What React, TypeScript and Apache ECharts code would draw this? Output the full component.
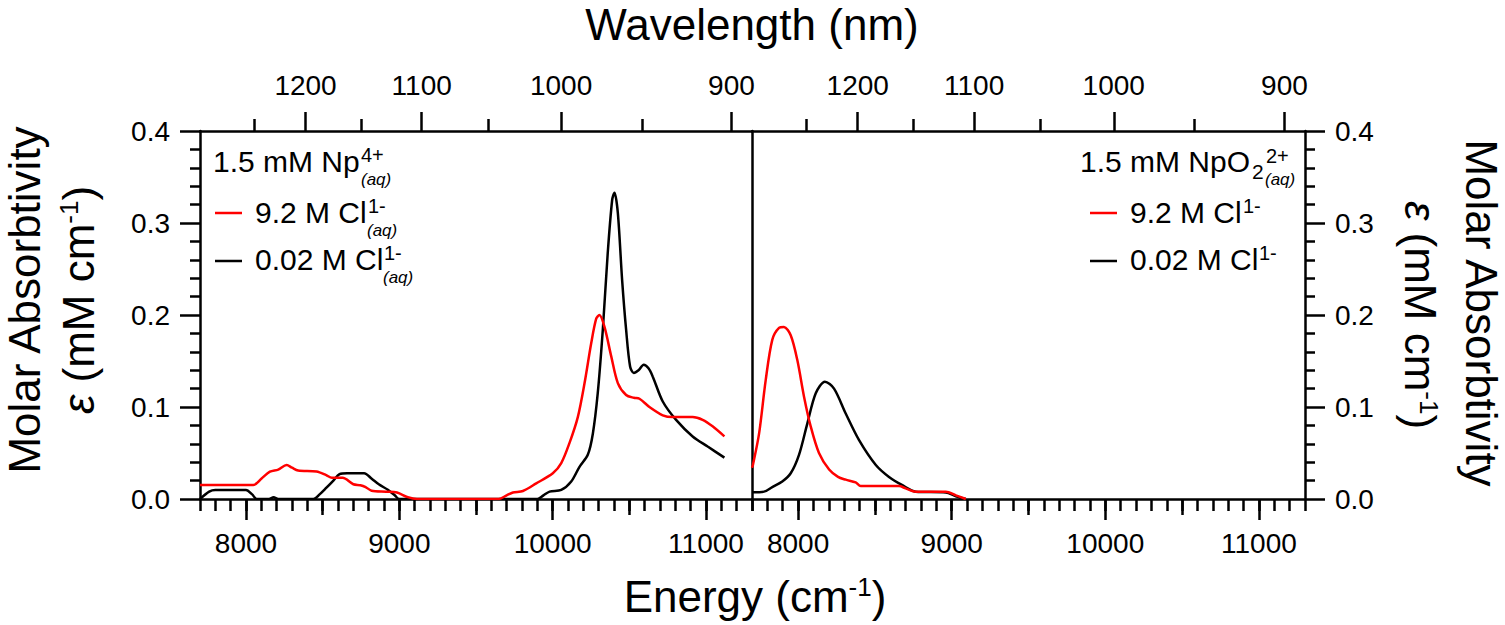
import React, { useEffect, useRef } from "react";
import * as echarts from "echarts";

// ---- tick definitions ----
const energyMajor = [8000, 9000, 10000, 11000];
const energyMid = [8500, 9500, 10500];
const wavelengthMajor = [1200, 1100, 1000, 900];
const wavelengthMinor = [1250, 1150, 1050, 950];

// ---- Left panel: 1.5 mM Np4+ ----
const np4Cl002E = [7700, 7760, 7800, 8000, 8040, 8070, 8150, 8180, 8210, 8440, 8480, 8523, 8570, 8610, 8660, 8770, 8820, 8866, 8925, 8970, 9000, 9900, 9940, 9980, 10056, 10121, 10175, 10229, 10262, 10294, 10327, 10359, 10388, 10403, 10425, 10453, 10479, 10505, 10529, 10560, 10594, 10625, 10653, 10718, 10805, 10913, 11011, 11120];
const np4Cl002V = [0.0, 0.008, 0.0098, 0.0098, 0.005, 0.0, 0.0, 0.002, 0.0, 0.0, 0.005, 0.012, 0.02, 0.027, 0.028, 0.028, 0.022, 0.016, 0.01, 0.004, 0.0, 0.0, 0.004, 0.008, 0.0098, 0.019, 0.035, 0.048, 0.071, 0.115, 0.184, 0.267, 0.325, 0.333, 0.311, 0.238, 0.184, 0.144, 0.137, 0.14, 0.146, 0.142, 0.133, 0.106, 0.086, 0.068, 0.057, 0.045];

const np4Cl92E = [7700, 8047, 8100, 8156, 8210, 8265, 8300, 8340, 8460, 8523, 8560, 8630, 8700, 8746, 8780, 8819, 8914, 8985, 9055, 9115, 9648, 9700, 9741, 9806, 9893, 10001, 10056, 10110, 10164, 10208, 10251, 10284, 10305, 10338, 10382, 10425, 10479, 10530, 10566, 10631, 10718, 10783, 10913, 10978, 11043, 11120];
const np4Cl92V = [0.0152, 0.0152, 0.022, 0.0297, 0.032, 0.037, 0.034, 0.031, 0.03, 0.026, 0.023, 0.023, 0.016, 0.015, 0.013, 0.009, 0.008, 0.007, 0.002, 0.0, 0.0, 0.004, 0.007, 0.0087, 0.017, 0.028, 0.039, 0.061, 0.089, 0.126, 0.169, 0.196, 0.2, 0.187, 0.155, 0.126, 0.113, 0.11, 0.109, 0.1, 0.091, 0.089, 0.089, 0.086, 0.079, 0.068];

// ---- Right panel: 1.5 mM NpO2 2+ ----
const npo2Cl002E = [7700, 7778, 7832, 7897, 7952, 8006, 8060, 8115, 8175, 8234, 8310, 8397, 8506, 8592, 8679, 8766, 8962, 9027, 9092];
const npo2Cl002V = [0.0073, 0.008, 0.013, 0.019, 0.028, 0.048, 0.082, 0.115, 0.1275, 0.12, 0.093, 0.064, 0.037, 0.024, 0.015, 0.008, 0.007, 0.003, 0.0];

const npo2Cl92E = [7700, 7706, 7746, 7789, 7832, 7876, 7908, 7952, 7995, 8039, 8082, 8136, 8202, 8260, 8310, 8375, 8408, 8657, 8700, 8766, 8962, 9027, 9092];
const npo2Cl92V = [0.034, 0.037, 0.071, 0.129, 0.173, 0.186, 0.187, 0.178, 0.151, 0.111, 0.079, 0.05, 0.032, 0.024, 0.021, 0.018, 0.014, 0.014, 0.0116, 0.008, 0.008, 0.004, 0.0];

const zip = (e: number[], v: number[]) => e.map((x, i) => [x, v[i]]);

const FONT = "Liberation Sans";
const BLACK = "#000000";
const RED = "#ff0000";
const E_MIN = 7700;
const E_MAX = 11300;
const TOP_MIN = 7645;
const TOP_MAX = 11245;

const lineStyle = { color: BLACK, width: 2.5 };

function xAxesFor(grid: number): any[] {
  const base = { type: "value", gridIndex: grid, splitLine: { show: false }, minorSplitLine: { show: false } };
  return [
    {
      ...base,
      position: "bottom",
      min: E_MIN,
      max: E_MAX,
      axisLine: { show: true, onZero: false, lineStyle },
      axisTick: { show: true, customValues: energyMajor, length: 21, lineStyle },
      axisLabel: {
        show: true,
        customValues: energyMajor,
        formatter: (v: number) => String(Math.round(v)),
        fontSize: 28,
        color: BLACK,
        margin: 30,
        fontFamily: FONT,
      },
    },
    {
      ...base,
      position: "bottom",
      min: E_MIN,
      max: E_MAX,
      axisLine: { show: false, onZero: false },
      axisTick: { show: true, customValues: energyMid, length: 16, lineStyle },
      axisLabel: { show: false },
    },
    {
      ...base,
      position: "bottom",
      min: E_MIN,
      max: E_MAX,
      interval: 100,
      axisLine: { show: false, onZero: false },
      axisTick: { show: true, length: 12, lineStyle },
      axisLabel: { show: false },
    },
    {
      ...base,
      position: "top",
      min: TOP_MIN,
      max: TOP_MAX,
      axisLine: { show: true, onZero: false, lineStyle },
      axisTick: { show: true, customValues: wavelengthMajor.map((w) => 1e7 / w), length: 19, lineStyle },
      axisLabel: {
        show: true,
        customValues: wavelengthMajor.map((w) => 1e7 / w),
        formatter: (v: number) => String(Math.round(1e7 / v)),
        fontSize: 28,
        color: BLACK,
        margin: 32,
        fontFamily: FONT,
      },
    },
    {
      ...base,
      position: "top",
      min: TOP_MIN,
      max: TOP_MAX,
      axisLine: { show: false, onZero: false },
      axisTick: { show: true, customValues: wavelengthMinor.map((w) => 1e7 / w), length: 12, lineStyle },
      axisLabel: { show: false },
    },
  ];
}

function yAxisLabeled(grid: number, position: string): any {
  return {
    type: "value",
    gridIndex: grid,
    position,
    min: 0,
    max: 0.4,
    interval: 0.1,
    axisLine: { show: true, onZero: false, lineStyle },
    axisTick: { show: true, length: 20, lineStyle },
    minorTick: { show: true, splitNumber: 5, length: 10, lineStyle },
    axisLabel: {
      formatter: (v: number) => v.toFixed(1),
      fontSize: 28,
      color: BLACK,
      margin: 30,
      fontFamily: FONT,
    },
    splitLine: { show: false },
    minorSplitLine: { show: false },
  };
}

function txt(text: string, x: number, y: number, size: number, opts: any = {}): any {
  return {
    type: "text",
    x,
    y,
    rotation: opts.rotation || 0,
    style: {
      text,
      fontSize: size,
      fontFamily: FONT,
      fontStyle: opts.italic ? "italic" : "normal",
      fill: BLACK,
      align: opts.align || "left",
      verticalAlign: "middle",
      rich: opts.rich,
    },
  };
}

function legendLine(x1: number, x2: number, y: number, color: string): any {
  return { type: "line", shape: { x1, y1: y, x2, y2: y }, style: { stroke: color, lineWidth: 2.5 } };
}

const titleRich = {
  a: { fontSize: 44, fontFamily: FONT, fill: BLACK },
  e: { fontSize: 44, fontFamily: FONT, fill: BLACK, fontStyle: "italic" },
  s: { fontSize: 26, fontFamily: FONT, fill: BLACK, verticalAlign: "top" },
};

export default function App() {
  const ref = useRef<HTMLDivElement>(null);
  useEffect(() => {
    if (!ref.current) return;
    const chart = echarts.init(ref.current, undefined, { renderer: "svg" });
    const graphics: any[] = [
      // titles
      txt("Wavelength (nm)", 752, 24, 44, { align: "center" }),
      txt("{a|Energy (cm}{s|-1}{a|)}", 755, 596, 44, { align: "center", rich: titleRich }),
      txt("Molar Absorbtivity", 24, 300, 44, { align: "center", rotation: Math.PI / 2 }),
      txt("{e|ε}{a| (mM cm}{s|-1}{a|)}", 78, 300, 44, { align: "center", rotation: Math.PI / 2, rich: titleRich }),
      txt("Molar Absorbtivity", 1481, 313, 44, { align: "center", rotation: -Math.PI / 2 }),
      txt("{e|ε}{a| (mM cm}{s|-1}{a|)}", 1420, 315, 44, { align: "center", rotation: -Math.PI / 2, rich: titleRich }),
      // left legend
      txt("1.5 mM Np", 213, 161, 30),
      txt("4+", 361, 155, 20),
      txt("(aq)", 361, 179, 17, { italic: true }),
      legendLine(215, 242, 213, RED),
      txt("9.2 M Cl", 255, 212, 30),
      txt("1-", 368, 206, 20),
      txt("(aq)", 367, 230, 17, { italic: true }),
      legendLine(215, 242, 261, BLACK),
      txt("0.02 M Cl", 255, 259, 30),
      txt("1-", 384, 253, 20),
      txt("(aq)", 383, 277, 17, { italic: true }),
      // right legend
      txt("1.5 mM NpO", 1250, 161, 30, { align: "right" }),
      txt("2", 1252, 171, 21),
      txt("2+", 1266, 156, 20),
      txt("(aq)", 1265, 179, 17, { italic: true }),
      legendLine(1090, 1117, 213, RED),
      txt("9.2 M Cl", 1130, 212, 30),
      txt("1-", 1243, 206, 20),
      legendLine(1090, 1117, 261, BLACK),
      txt("0.02 M Cl", 1130, 259, 30),
      txt("1-", 1259, 253, 20),
    ];

    const mkSeries = (name: string, data: number[][], color: string, xi: number, yi: number) => ({
      name,
      type: "line",
      xAxisIndex: xi,
      yAxisIndex: yi,
      data,
      showSymbol: false,
      symbol: "none",
      smooth: 0.3,
      lineStyle: { color, width: 2.5 },
      itemStyle: { color },
      z: 3,
    });

    chart.setOption({
      animation: false,
      textStyle: { fontFamily: FONT },
      grid: [
        { left: 200, top: 131, width: 552, height: 368 },
        { left: 752, top: 131, width: 553, height: 368 },
      ],
      xAxis: [...xAxesFor(0), ...xAxesFor(1)],
      yAxis: [
        yAxisLabeled(0, "left"),
        {
          type: "value",
          gridIndex: 0,
          position: "right",
          min: 0,
          max: 0.4,
          axisLine: { show: true, onZero: false, lineStyle },
          axisTick: { show: false },
          axisLabel: { show: false },
          splitLine: { show: false },
        },
        yAxisLabeled(1, "right"),
      ],
      series: [
        mkSeries("Np4+ 0.02 M Cl", zip(np4Cl002E, np4Cl002V), BLACK, 0, 0),
        mkSeries("Np4+ 9.2 M Cl", zip(np4Cl92E, np4Cl92V), RED, 0, 0),
        mkSeries("NpO2 2+ 0.02 M Cl", zip(npo2Cl002E, npo2Cl002V), BLACK, 5, 2),
        mkSeries("NpO2 2+ 9.2 M Cl", zip(npo2Cl92E, npo2Cl92V), RED, 5, 2),
      ],
      graphic: graphics,
    });
    return () => chart.dispose();
  }, []);
  return (
    <div
      ref={ref}
      style={{ position: "fixed", left: 0, top: 0, width: 1505, height: 625, background: "#ffffff" }}
    />
  );
}
